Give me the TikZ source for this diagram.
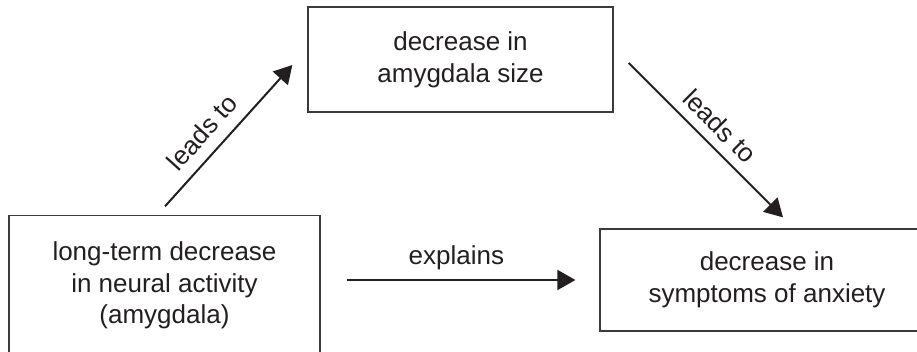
\documentclass[tikz,border=0pt]{standalone}
\usepackage{fontspec}
\setmainfont{Liberation Sans}
\usetikzlibrary{arrows.meta,calc}
\definecolor{inkblack}{HTML}{231F20}
\definecolor{boxgray}{HTML}{3A3A3A}
\begin{document}
\begin{tikzpicture}[x=1pt,y=-1pt,
  box/.style={draw=boxgray, line width=1.3pt, align=center,
    font=\fontsize{26}{31.7}\selectfont, text=inkblack, inner sep=0},
  link/.style={line width=2pt, draw=inkblack,
    -{Triangle[length=18pt,width=20pt]}},
  lbl/.style={font=\fontsize{26}{31}\selectfont, text=inkblack, inner sep=0}]
  \useasboundingbox (0,0) rectangle (917,352);
  \fill[white] (0,0) rectangle (917,352);
  \clip (0,0) rectangle (917,352);

  % the three boxes
  \node[box, minimum width=305pt, minimum height=105pt] (top) at (460.5,59.5)
    {decrease in\\amygdala size};
  \node[box, minimum width=311pt, minimum height=140pt] (left) at (164.5,285.5)
    {long-term decrease\\in neural activity\\(amygdala)};
  \node[box, minimum width=334pt, minimum height=102pt] (right) at (767,280)
    {decrease in\\symptoms of anxiety};

  % arrow end points, kept a little away from the boxes
  \coordinate (a1s) at ($(left.north)+(0.5,-8.5)$);
  \coordinate (a1e) at ($(top.west)+(-15,5.5)$);
  \coordinate (a2s) at ($(top.east)+(15,3.5)$);
  \coordinate (a2e) at ($(right.north)+(16,-11)$);
  \coordinate (a3s) at ($(left.east)+(26,-5.5)$);
  \coordinate (a3e) at ($(right.west)+(-24,0)$);

  \draw[link] (a1s) -- node[lbl, pos=0.42, sloped, above=11.5pt] (l1) {leads to} (a1e);
  \draw[link] (a2s) -- node[lbl, pos=0.5, sloped, above=9.5pt] (l2) {leads to} (a2e);
  \draw[link] (a3s) -- node[lbl, pos=0.48, above=9.5pt] (l3) {explains} (a3e);
\end{tikzpicture}
\end{document}
